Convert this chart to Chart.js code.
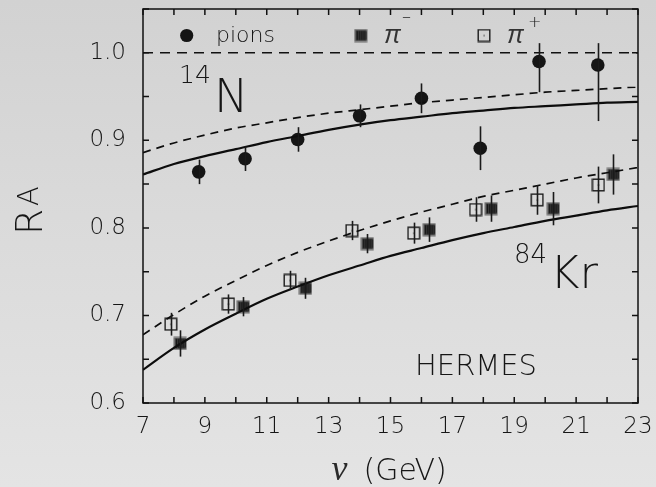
<!DOCTYPE html>
<html>
<head>
<meta charset="utf-8">
<script src="https://cdn.jsdelivr.net/npm/chart.js@4.4.1/dist/chart.umd.min.js"></script>
<style>
html,body{margin:0;padding:0;background:#dcdcdc;}
canvas{display:block;}
</style>
</head>
<body>
<canvas id="c" width="656" height="487"></canvas>
<script>
// ---- data ----
const nuGrid = [7, 8, 9, 10, 11, 12, 13, 14, 15, 16, 17, 18, 19, 20, 21, 22, 23];
const rNSolid  = [0.861, 0.873, 0.882, 0.890, 0.898, 0.905, 0.912, 0.918, 0.923, 0.927, 0.931, 0.934, 0.937, 0.939, 0.941, 0.943, 0.944];
const rNDashed = [0.886, 0.897, 0.906, 0.914, 0.920, 0.926, 0.931, 0.935, 0.939, 0.943, 0.946, 0.949, 0.952, 0.955, 0.957, 0.959, 0.961];
const rKrSolid  = [0.638, 0.663, 0.684, 0.702, 0.719, 0.733, 0.746, 0.757, 0.768, 0.777, 0.786, 0.794, 0.801, 0.808, 0.814, 0.820, 0.825];
const rKrDashed = [0.678, 0.701, 0.722, 0.740, 0.757, 0.772, 0.785, 0.797, 0.808, 0.818, 0.827, 0.836, 0.843, 0.850, 0.857, 0.863, 0.869];

const nuPion = [8.8, 10.3, 12.0, 14.0, 16.0, 17.9, 19.8, 21.7];
const rPion = [0.864, 0.879, 0.901, 0.928, 0.948, 0.891, 0.990, 0.986];
const errPionUp = [0.014, 0.014, 0.014, 0.013, 0.017, 0.025, 0.021, 0.025];
const errPionDown = [0.014, 0.014, 0.014, 0.013, 0.017, 0.025, 0.035, 0.064];

const nuPiPlus = [7.9, 9.76, 11.75, 13.75, 15.75, 17.75, 19.74, 21.72];
const rPiPlus = [0.690, 0.713, 0.740, 0.797, 0.794, 0.821, 0.832, 0.849];
const errPiPlus = [0.013, 0.011, 0.011, 0.011, 0.012, 0.014, 0.017, 0.021];

const nuPiMinus = [8.2, 10.24, 12.25, 14.25, 16.25, 18.25, 20.26, 22.2];
const rPiMinus = [0.668, 0.710, 0.731, 0.782, 0.798, 0.822, 0.822, 0.861];
const errPiMinus = [0.015, 0.011, 0.012, 0.011, 0.014, 0.015, 0.019, 0.023];

const refLine = [1.0, 1.0];
const refLineX = [7, 23];
const xLabelStep = 2;
const yLabelStep = 0.1;

// ---- marker images ----
function makeOpenSquare(){
  const c = document.createElement('canvas'); c.width = 14; c.height = 14;
  const g = c.getContext('2d');
  g.strokeStyle = '#1a1a1a'; g.lineWidth = 1.4;
  g.strokeRect(1.2, 1.2, 11.6, 11.6);
  g.fillStyle = '#333'; g.fillRect(6.5, 6.5, 1.2, 1.2);
  return c;
}
function makeFilledSquare(){
  const c = document.createElement('canvas'); c.width = 14; c.height = 14;
  const g = c.getContext('2d');
  g.fillStyle = '#6a6a6a'; g.fillRect(0.5, 0.5, 13, 13);
  g.fillStyle = '#3a3a3a'; g.fillRect(2, 2, 10, 10);
  g.fillStyle = '#111';
  for (let i = 3; i < 12; i += 2.2) g.fillRect(i, 2.5, 1, 9);
  return c;
}
const openSq = makeOpenSquare();
const filledSq = makeFilledSquare();

const FONT = '"DejaVu Sans", sans-serif';
const TXT = '#161616';

function pts(xs, ys){ return xs.map((x, i) => ({x: x, y: ys[i]})); }

const bgPlugin = {
  id: 'bg',
  beforeDraw(chart){
    const ctx = chart.ctx;
    const g = ctx.createLinearGradient(0, 0, 0, chart.height);
    g.addColorStop(0, '#d2d2d2');
    g.addColorStop(1, '#e4e4e4');
    ctx.save(); ctx.fillStyle = g; ctx.fillRect(0, 0, chart.width, chart.height); ctx.restore();
  }
};

const errPlugin = {
  id: 'errbars',
  afterDatasetsDraw(chart){
    const ctx = chart.ctx, xs = chart.scales.x, ys = chart.scales.y;
    ctx.save();
    ctx.strokeStyle = '#1a1a1a'; ctx.lineWidth = 1.6;
    chart.data.datasets.forEach(ds => {
      if (!ds.errUp) return;
      ds.data.forEach((p, i) => {
        const px = Math.round(xs.getPixelForValue(p.x)) + 0.5;
        ctx.beginPath();
        ctx.moveTo(px, ys.getPixelForValue(p.y + ds.errUp[i]));
        ctx.lineTo(px, ys.getPixelForValue(p.y - ds.errDown[i]));
        ctx.stroke();
      });
    });
    ctx.restore();
  }
};

const framePlugin = {
  id: 'frame',
  afterDraw(chart){
    const ctx = chart.ctx, a = chart.chartArea, xs = chart.scales.x, ys = chart.scales.y;
    ctx.save();
    ctx.strokeStyle = '#111'; ctx.lineWidth = 1.5;
    ctx.strokeRect(a.left, a.top, a.right - a.left, a.bottom - a.top);
    const L = 6;
    ctx.beginPath();
    for (let v = xs.min; v <= xs.max + 1e-9; v += 1) {
      const p = xs.getPixelForValue(v);
      ctx.moveTo(p, a.bottom); ctx.lineTo(p, a.bottom - L);
      ctx.moveTo(p, a.top); ctx.lineTo(p, a.top + L);
    }
    for (let v = ys.min; v <= ys.max + 1e-9; v += 0.05) {
      const p = ys.getPixelForValue(v);
      ctx.moveTo(a.left, p); ctx.lineTo(a.left + L, p);
      ctx.moveTo(a.right, p); ctx.lineTo(a.right - L, p);
    }
    ctx.stroke();

    // texts
    ctx.fillStyle = TXT;
    ctx.textBaseline = 'alphabetic';
    ctx.textAlign = 'left';
    const X = (dx) => a.left + dx, Y = (dy) => a.top + dy;

    // legend
    ctx.beginPath(); ctx.arc(X(43.7), Y(26.5), 6.6, 0, Math.PI * 2); ctx.fillStyle = '#151515'; ctx.fill();
    ctx.fillStyle = TXT;
    ctx.font = '200 22px ' + FONT;
    ctx.fillText('pions', X(73), Y(33));
    ctx.drawImage(filledSq, X(217.7) - 7, Y(26.5) - 7);
    ctx.fillStyle = '#333';
    ctx.font = 'italic 25px "Liberation Sans", sans-serif';
    ctx.fillText('\u03c0', X(241), Y(34));
    ctx.fillStyle = TXT;
    ctx.font = '200 18px ' + FONT;
    ctx.fillText('\u2013', X(259), Y(13));
    ctx.drawImage(openSq, X(341) - 7, Y(26.5) - 7);
    ctx.fillStyle = '#333';
    ctx.font = 'italic 25px "Liberation Sans", sans-serif';
    ctx.fillText('\u03c0', X(364), Y(34));
    ctx.fillStyle = TXT;
    ctx.font = '200 16px ' + FONT;
    ctx.fillText('+', X(385), Y(18));

    // 14N
    ctx.font = '200 25px ' + FONT;
    ctx.fillText('14', X(36), Y(74));
    ctx.font = '200 46px ' + FONT;
    ctx.fillText('N', X(71), Y(103));
    // 84Kr
    ctx.font = '200 26px ' + FONT;
    ctx.fillText('84', X(371), Y(254));
    ctx.font = '200 45px ' + FONT;
    ctx.fillText('Kr', X(407), Y(279));
    // HERMES
    ctx.font = '200 29px ' + FONT;
    ctx.fillText('HERMES', X(272), Y(366));

    // x title
    const cx = (a.left + a.right) / 2;
    ctx.fillStyle = '#2a2a2a';
    ctx.font = 'italic 36px "Liberation Serif", serif';
    ctx.fillText('\u03bd', cx - 59, 480);
    ctx.fillStyle = TXT;
    ctx.font = '200 30px ' + FONT;
    ctx.fillText('(GeV)', cx - 27, 480);

    // y title
    ctx.save();
    ctx.translate(42, 235);
    ctx.rotate(-Math.PI / 2);
    ctx.font = '200 38px ' + FONT;
    ctx.fillText('R', 0, 0);
    ctx.font = '200 29px ' + FONT;
    ctx.fillText('A', 29, -4);
    ctx.restore();
    ctx.restore();
  }
};

const lineDs = (ys, dash, w) => ({
  data: pts(nuGrid, ys), showLine: true, pointRadius: 0, borderColor: '#0d0d0d',
  borderWidth: w, borderDash: dash, cubicInterpolationMode: 'monotone', fill: false
});

function zeroPad(s){ s.paddingTop = 0; s.paddingBottom = 0; s.paddingLeft = 0; s.paddingRight = 0; }

new Chart(document.getElementById('c'), {
  type: 'scatter',
  data: {
    datasets: [
      lineDs(rNSolid, [], 2.2),
      lineDs(rNDashed, [8, 6], 1.7),
      lineDs(rKrSolid, [], 2.2),
      lineDs(rKrDashed, [8, 6], 1.7),
      { data: pts(refLineX, refLine), showLine: true, pointRadius: 0, borderColor: '#111', borderWidth: 1.4, borderDash: [10, 7] },
      { data: pts(nuPion, rPion), pointStyle: 'circle', pointRadius: 6.8, backgroundColor: '#151515', borderColor: '#151515', borderWidth: 0, errUp: errPionUp, errDown: errPionDown },
      { data: pts(nuPiPlus, rPiPlus), pointStyle: openSq, errUp: errPiPlus, errDown: errPiPlus },
      { data: pts(nuPiMinus, rPiMinus), pointStyle: filledSq, errUp: errPiMinus, errDown: errPiMinus }
    ]
  },
  options: {
    responsive: false,
    animation: false,
    events: [],
    layout: { padding: { left: 0, right: 18, top: 9, bottom: 0 } },
    plugins: { legend: { display: false }, tooltip: { enabled: false } },
    scales: {
      x: {
        type: 'linear', min: 7, max: 23,
        afterFit: s => { s.height = 84; zeroPad(s); },
        grid: { display: false, drawTicks: false },
        border: { display: false },
        ticks: { stepSize: xLabelStep, padding: 10, color: TXT, font: { family: FONT, size: 23, weight: 200 }, maxRotation: 0, autoSkip: false }
      },
      y: {
        type: 'linear', min: 0.6, max: 1.05,
        afterFit: s => { s.width = 143; zeroPad(s); },
        grid: { display: false, drawTicks: false },
        border: { display: false },
        ticks: {
          stepSize: yLabelStep, padding: 17, color: TXT, font: { family: FONT, size: 23, weight: 200 },
          callback: v => (Math.abs(v * 10 - Math.round(v * 10)) < 1e-6 ? v.toFixed(1) : null)
        }
      }
    }
  },
  plugins: [bgPlugin, errPlugin, framePlugin]
});
</script>
</body>
</html>
